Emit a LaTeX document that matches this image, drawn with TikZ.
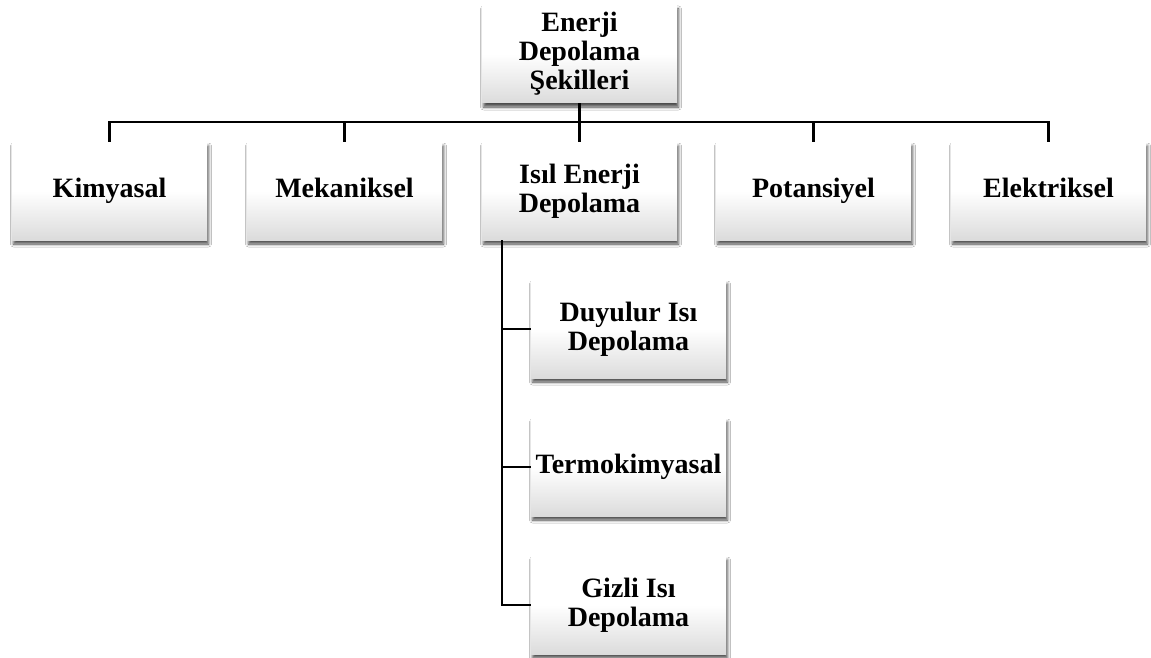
\documentclass[tikz,border=0pt]{standalone}
\usepackage{fontspec}
\setmainfont{Liberation Serif}
\usetikzlibrary{shadows.blur}
\begin{document}
\begin{tikzpicture}[x=1pt,y=1pt,
  box/.style={minimum width=195pt, minimum height=98pt, inner sep=2pt,
    align=center, top color=white, bottom color=black!14, middle color=white,
    font=\bfseries\fontsize{28}{29}\selectfont,
    blur shadow={shadow xshift=1.5pt, shadow yshift=-4pt,
      shadow blur radius=3pt, shadow opacity=70}},
  oneline/.style={box, text height=19pt, text depth=6pt},
  link/.style={line width=2.8pt, black}]
  \useasboundingbox (0,0) rectangle (1151,-658);
  \fill[white] (0,0) rectangle (1151,-658);

  % root and first level
  \node[box] (root) at (579.5,-54) {Enerji\\Depolama\\Şekilleri};
  \node[oneline] (kim)  at (109.5,-191) {Kimyasal};
  \node[oneline] (mek)  at (344.5,-191) {Mekaniksel};
  \node[box] (isil) at (579.5,-191) {Isıl Enerji\\Depolama};
  \node[oneline] (pot)  at (813.5,-191) {Potansiyel};
  \node[oneline] (elek) at (1048.5,-191) {Elektriksel};

  % thermal storage sub-types
  \node[box] (duy)  at (628.5,-329) {Duyulur Isı\\Depolama};
  \node[oneline] (term) at (628.5,-467) {Termokimyasal};
  \node[box] (giz)  at (628.5,-605) {Gizli Isı\\Depolama};

  % horizontal bus between root and first level
  \coordinate (bus) at (579.5,-122);
  \coordinate (spine) at (502,-240);

  \draw[link] (root.south) -- (bus);
  \draw[link] (kim.north) |- (bus) -| (elek.north);
  \draw[link] (mek.north) -- (mek.north |- bus);
  \draw[link] (pot.north) -- (pot.north |- bus);
  \draw[link] (bus) -- (isil.north);

  % vertical spine feeding the sub-types
  \draw[link] (spine) |- (giz.west);
  \draw[link] (spine |- duy.west) -- (duy.west);
  \draw[link] (spine |- term.west) -- (term.west);
\end{tikzpicture}
\end{document}
